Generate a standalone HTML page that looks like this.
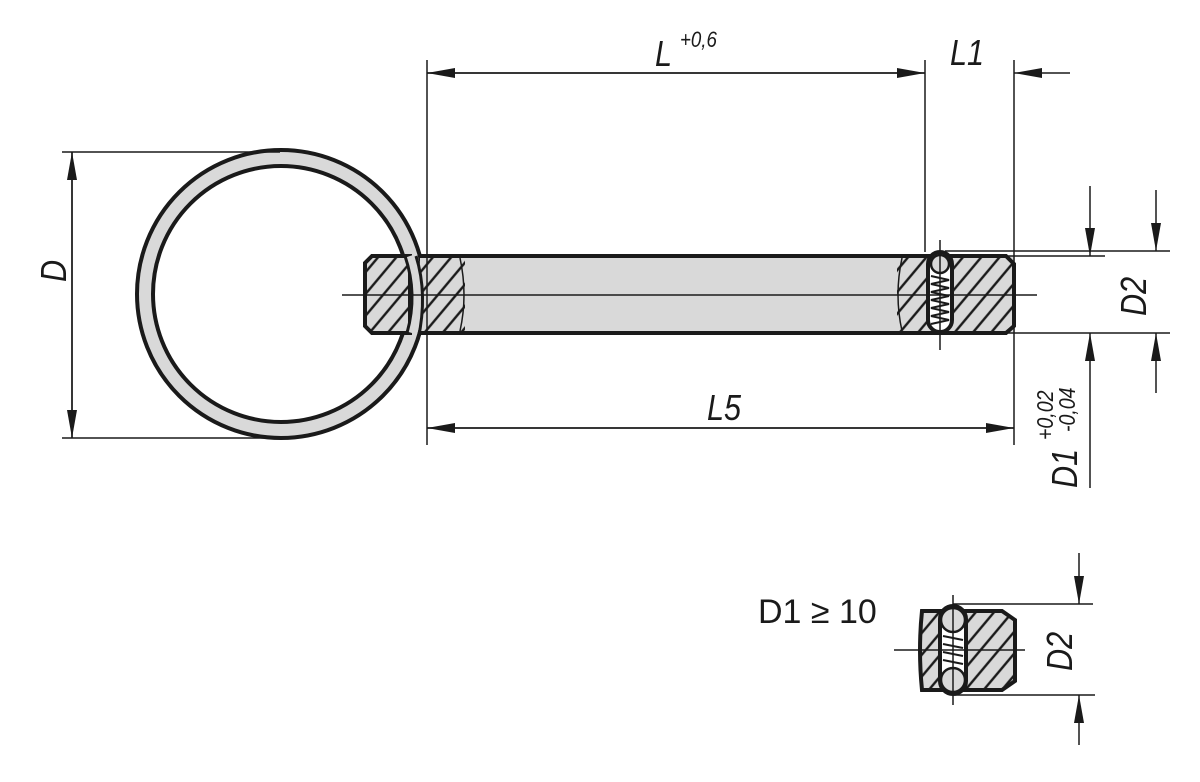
<!DOCTYPE html>
<html><head><meta charset="utf-8"><style>
html,body{margin:0;padding:0;background:#fff;width:1200px;height:782px;overflow:hidden}
text{font-family:"Liberation Sans",sans-serif;fill:#1a1a1a}
</style></head><body>
<svg width="1200" height="782" viewBox="0 0 1200 782" xmlns="http://www.w3.org/2000/svg">
<defs>
<pattern id="h" patternUnits="userSpaceOnUse" width="14" height="14" patternTransform="rotate(40)">
<rect width="14" height="14" fill="#d9d9d9"/><line x1="7" y1="0" x2="7" y2="14" stroke="#1a1a1a" stroke-width="2.4"/>
</pattern>
<marker id="a" markerWidth="28" markerHeight="10" refX="28" refY="5" orient="auto" markerUnits="userSpaceOnUse">
<path d="M0,0 L28,5 L0,10 Z" fill="#1a1a1a"/></marker>
</defs>
<g stroke="#1a1a1a" fill="none">
<circle cx="281" cy="294" r="136" stroke="#d9d9d9" stroke-width="16"/>
<circle cx="281" cy="294" r="144" stroke-width="4"/>
<circle cx="281" cy="294" r="128" stroke-width="4"/>
<rect x="420" y="256" width="595" height="77" fill="#d9d9d9" stroke="none"/>
<path d="M372,256 L410,256 L410,333 L372,333 L365,326 L365,263 Z" fill="url(#h)" stroke-width="4"/>
<rect x="421" y="258" width="44" height="73" fill="url(#h)" stroke="none"/>
<path d="M897,258 L1006,258 L1014,266 L1014,324 L1006,331 L897,331 Z" fill="url(#h)" stroke="none"/>
<path d="M420,256 L1006,256 L1014,264 L1014,326 L1006,333 L420,333" stroke-width="4"/>
<path d="M460,258 Q468,295 460,331 M902,258 Q894,295 902,331" stroke-width="1.5"/>
<path d="M410,256 Q423,294 412,333" stroke="#d9d9d9" stroke-width="10"/>
<path d="M405,256 Q418,294 407,333 M416,256 Q428,294 418,340" stroke-width="3"/>
<rect x="928" y="252" width="24" height="80" rx="12" fill="#fff" stroke-width="4"/>
<circle cx="940" cy="264" r="9" fill="#d9d9d9" stroke-width="2.5"/>
<path d="M931,276 L949,280 L931,284 L949,288 L931,292 L949,296 L931,300 L949,304 L931,308 L949,312 L931,316 L949,320 L931,324" stroke-width="2"/>
<path d="M342,295 L1037,295" stroke-width="1.5"/>
<line x1="940" y1="240" x2="940" y2="350" stroke-width="1.5"/>
<g stroke-width="1.5">
<line x1="427" y1="60" x2="427" y2="445"/>
<line x1="925" y1="60" x2="925" y2="252"/>
<line x1="1014" y1="60" x2="1014" y2="445"/>
<line x1="427" y1="73" x2="925" y2="73" marker-end="url(#a)"/>
<line x1="925" y1="73" x2="427" y2="73" marker-end="url(#a)"/>
<line x1="1070" y1="73" x2="1014" y2="73" marker-end="url(#a)"/>
<line x1="427" y1="428" x2="1014" y2="428" marker-end="url(#a)"/>
<line x1="1014" y1="428" x2="427" y2="428" marker-end="url(#a)"/>
<line x1="62" y1="152" x2="280" y2="152"/>
<line x1="62" y1="438" x2="280" y2="438"/>
<line x1="72" y1="152" x2="72" y2="438" marker-end="url(#a)"/>
<line x1="72" y1="438" x2="72" y2="152" marker-end="url(#a)"/>
<line x1="945" y1="251" x2="1170" y2="251"/>
<line x1="945" y1="256" x2="1105" y2="256"/>
<line x1="1000" y1="333" x2="1170" y2="333"/>
<line x1="1090" y1="186" x2="1090" y2="256" marker-end="url(#a)"/>
<line x1="1090" y1="488" x2="1090" y2="333" marker-end="url(#a)"/>
<line x1="1156" y1="190" x2="1156" y2="251" marker-end="url(#a)"/>
<line x1="1156" y1="393" x2="1156" y2="333" marker-end="url(#a)"/>
</g>
<path d="M922,611 L1002,611 L1015,620 L1015,681 L1002,690 L922,690 Q918,650 922,611 Z" fill="url(#h)" stroke-width="4"/>
<rect x="940" y="606" width="26" height="88" rx="13" fill="#fff" stroke-width="4"/>
<circle cx="953" cy="620" r="12" fill="#d9d9d9" stroke-width="2.5"/>
<circle cx="953" cy="680" r="12" fill="#d9d9d9" stroke-width="2.5"/>
<path d="M943,636 L963,640 M943,644 L963,648 M943,652 L963,656 M943,660 L963,664" stroke-width="2"/>
<g stroke-width="1.5">
<line x1="894" y1="650" x2="1025" y2="650"/>
<line x1="953" y1="595" x2="953" y2="705"/>
<line x1="953" y1="604" x2="1093" y2="604"/>
<line x1="953" y1="695" x2="1095" y2="695"/>
<line x1="1079" y1="553" x2="1079" y2="604" marker-end="url(#a)"/>
<line x1="1079" y1="745" x2="1079" y2="695" marker-end="url(#a)"/>
</g>
</g>
<g font-style="italic">
<text transform="translate(655,66) scale(0.85,1)" font-size="36">L</text>
<text transform="translate(680,47) scale(0.85,1)" font-size="22">+0,6</text>
<text transform="translate(950,65) scale(0.85,1)" font-size="36">L1</text>
<text transform="translate(707,420) scale(0.85,1)" font-size="36">L5</text>
<text transform="translate(66,282) rotate(-90) scale(0.85,1)" font-size="36">D</text>
<text transform="translate(1146,316) rotate(-90) scale(0.85,1)" font-size="36">D2</text>
<text transform="translate(1077,488) rotate(-90) scale(0.85,1)" font-size="36">D1</text>
<text transform="translate(1053,440) rotate(-90) scale(0.85,1)" font-size="23">+0,02</text>
<text transform="translate(1075,432) rotate(-90) scale(0.85,1)" font-size="23">-0,04</text>
<text transform="translate(1072,671) rotate(-90) scale(0.85,1)" font-size="36">D2</text>
</g>
<text x="758" y="623" font-size="34">D1 ≥ 10</text>
</svg>
</body></html>
